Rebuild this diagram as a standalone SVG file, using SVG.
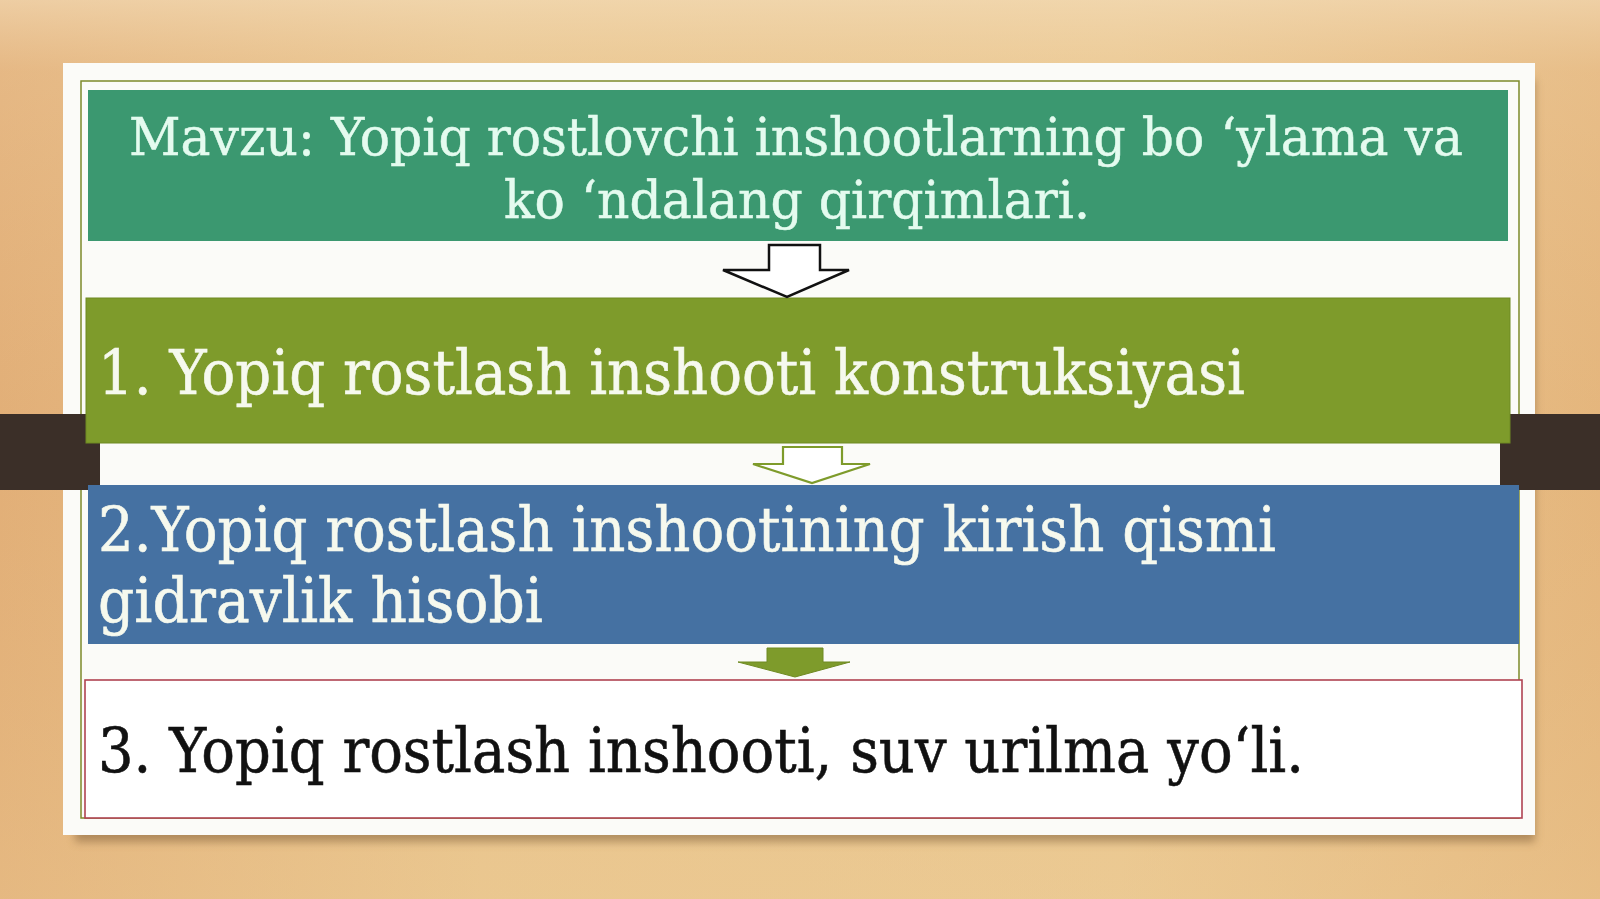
<svg xmlns="http://www.w3.org/2000/svg" width="1600" height="899" viewBox="0 0 1600 899">
<style>
.t{font-family:"DejaVu Serif","Liberation Serif",serif}
.title{font-size:52px;fill:#e4fbef;stroke:#e4fbef;stroke-width:0.5}
.big{font-size:61px;fill:#f6f9ee;stroke:#f6f9ee;stroke-width:0.6}
.dark{font-size:61px;fill:#111111;stroke:#111111;stroke-width:0.6}
</style>
<defs>
<linearGradient id="bg" x1="0" y1="0" x2="1" y2="0">
<stop offset="0" stop-color="#e1ad76"/>
<stop offset="0.3" stop-color="#e9c58e"/>
<stop offset="0.7" stop-color="#ebc993"/>
<stop offset="1" stop-color="#e4b57c"/>
</linearGradient>
<linearGradient id="bgv" x1="0" y1="0" x2="0" y2="1">
<stop offset="0" stop-color="#f3dbb6" stop-opacity="0.7"/>
<stop offset="0.08" stop-color="#f0d2a6" stop-opacity="0.3"/>
<stop offset="0.5" stop-color="#e6b97f" stop-opacity="0.15"/>
<stop offset="1" stop-color="#ecca92" stop-opacity="0.4"/>
</linearGradient>
<filter id="sh" x="-5%" y="-5%" width="110%" height="115%">
<feGaussianBlur stdDeviation="4"/>
</filter>
</defs>
<g id="background">
<rect width="1600" height="899" fill="url(#bg)"/>
<rect width="1600" height="899" fill="url(#bgv)"/>
</g>
<g id="paper">
<rect x="75" y="80" width="1460" height="762" fill="#7a5a34" opacity="0.5" filter="url(#sh)"/>
<rect x="63" y="63" width="1472" height="772" fill="#fbfbf8"/>
<rect x="81" y="81" width="1438" height="737" fill="none" stroke="#7d8a2a" stroke-width="1.5"/>
</g>
<g id="bands">
<rect x="0" y="414" width="100" height="76" fill="#3b2f28"/>
<rect x="1500" y="414" width="100" height="76" fill="#3b2f28"/>
</g>
<g id="title">
<rect x="88" y="90" width="1420" height="151" fill="#3b9870"/>
<text class="t title" x="129" y="155" textLength="1334" lengthAdjust="spacingAndGlyphs">Mavzu: Yopiq rostlovchi inshootlarning bo ‘ylama va</text>
<text class="t title" x="504" y="218" textLength="586" lengthAdjust="spacingAndGlyphs">ko ‘ndalang qirqimlari.</text>
</g>
<g id="step1">
<rect x="86" y="298" width="1424" height="145" fill="#7e9b2b"/>
<rect x="86" y="298" width="1424" height="145" fill="none" stroke="#6f8a22" stroke-width="1"/>
<text class="t big" x="98" y="394" textLength="1147" lengthAdjust="spacingAndGlyphs">1. Yopiq rostlash inshooti konstruksiyasi</text>
</g>
<g id="step2">
<rect x="88" y="485" width="1431" height="159" fill="#4571a2"/>
<text class="t big" x="98" y="551" textLength="1178" lengthAdjust="spacingAndGlyphs">2.Yopiq rostlash inshootining kirish qismi</text>
<text class="t big" x="98" y="622" textLength="445" lengthAdjust="spacingAndGlyphs">gidravlik hisobi</text>
</g>
<g id="step3">
<rect x="85" y="680" width="1437" height="138" fill="#ffffff" stroke="#b04352" stroke-width="1.6"/>
<text class="t dark" x="98" y="772" textLength="1206" lengthAdjust="spacingAndGlyphs">3. Yopiq rostlash inshooti, suv urilma yo‘li.</text>
</g>
<g id="connectors">
<path d="M769,245 H820 V270 H849 L787,297 L723,270 H769 Z" fill="#ffffff" stroke="#111111" stroke-width="2.5" stroke-linejoin="miter"/>
<path d="M783,447 H842 V464 H870 L812,483 L753,464 H783 Z" fill="#ffffff" stroke="#7e9b2b" stroke-width="2.2"/>
<path d="M767,648 H823 V662 H850 L795,677 L738,662 H767 Z" fill="#7e9b2b" stroke="#6f8a22" stroke-width="1"/>
</g>
</svg>
